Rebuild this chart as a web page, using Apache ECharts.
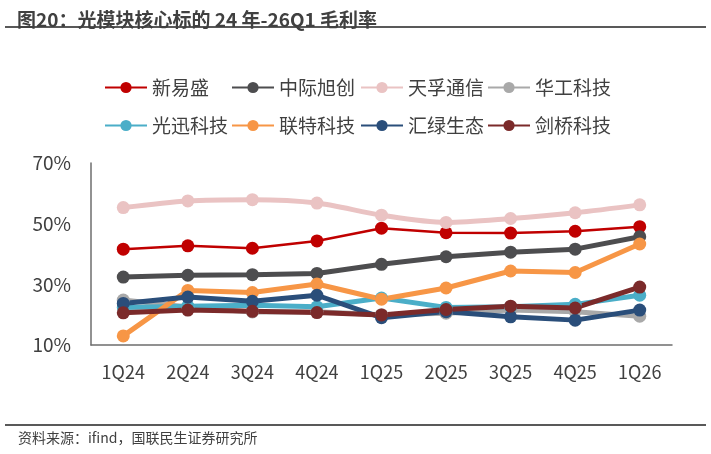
<!DOCTYPE html>
<html lang="zh">
<head>
    <meta charset="UTF-8"/>
    <title>光模块核心标的毛利率</title>
    <script src="https://cdn.jsdelivr.net/npm/echarts@6/dist/echarts.min.js"></script>
    <style>
        body { margin: 0; background: #fff; }
        #main { width: 711px; height: 454px; }
    </style>
</head>
<body>
<div id="main"></div>
<script type="text/javascript">
    // 数据
    var quarters = ['1Q24', '2Q24', '3Q24', '4Q24', '1Q25', '2Q25', '3Q25', '4Q25', '1Q26'];
    var names = ['新易盛', '中际旭创', '天孚通信', '华工科技', '光迅科技', '联特科技', '汇绿生态', '剑桥科技'];
    var xinyisheng = [41.6, 42.7, 41.9, 44.3, 48.5, 47.0, 46.9, 47.5, 49.0];
    var zhongjixuchuang = [32.4, 33.0, 33.2, 33.6, 36.6, 39.1, 40.6, 41.6, 45.7];
    var tianfu = [55.3, 57.5, 57.9, 56.8, 52.8, 50.4, 51.7, 53.6, 56.2];
    var huagong = [24.8, 22.5, 20.9, 21.0, 20.0, 20.5, 21.5, 21.0, 19.5];
    var guangxun = [22.4, 22.8, 23.1, 22.6, 25.5, 22.4, 22.6, 23.4, 26.4];
    var liante = [13.0, 28.0, 27.3, 30.1, 25.1, 28.8, 34.4, 33.9, 43.3];
    var huilv = [23.7, 25.8, 24.4, 26.4, 19.0, 21.0, 19.3, 18.2, 21.5];
    var jianqiao = [20.6, 21.5, 21.1, 20.7, 19.9, 21.7, 22.8, 22.2, 29.1];
    var yTicks = [10, 30, 50, 70];

    var seriesData = [xinyisheng, zhongjixuchuang, tianfu, huagong, guangxun, liante, huilv, jianqiao];
    var colors = ['#C00000', '#4D4D4F', '#EAC3C3', '#A9A9A9', '#4BAEC8', '#F79646', '#2A4E7A', '#7B2A2A'];

    var myChart = echarts.init(document.getElementById('main'));

    var series = [];
    for (var i = 0; i < names.length; i++) {
        series.push({
            name: names[i],
            type: 'line',
            data: seriesData[i],
            symbol: 'circle',
            symbolSize: 13,
            smooth: i === 2 ? 0.3 : false,
            lineStyle: {width: i === 0 ? 2.5 : 5, color: colors[i]},
            itemStyle: {color: colors[i]}
        });
    }

    // 图例：两行四列
    var legendCols = [104, 231, 360, 487];
    var legendRows = [78, 116];
    var legends = [];
    for (var j = 0; j < names.length; j++) {
        legends.push({
            left: legendCols[j % 4],
            top: legendRows[Math.floor(j / 4)],
            padding: 0,
            itemWidth: 42,
            itemHeight: 14,
            data: [names[j]],
            textStyle: {fontSize: 19, color: '#404040', fontFamily: 'Noto Sans CJK SC'}
        });
    }

    var option = {
        color: colors,
        animation: false,
        title: {
            text: '图20：光模块核心标的 24 年-26Q1 毛利率',
            left: 12,
            top: 5,
            textStyle: {fontSize: 19, fontWeight: 'bold', color: '#404040', fontFamily: 'Noto Sans CJK SC'}
        },
        legend: legends,
        grid: {left: 91, right: 39, top: 163, bottom: 109},
        xAxis: {
            type: 'category',
            data: quarters,
            axisLine: {lineStyle: {color: '#6E6E6E', width: 1.5}},
            axisTick: {show: false},
            axisLabel: {fontSize: 18, color: '#404040', margin: 18, fontFamily: 'Noto Sans CJK SC'}
        },
        yAxis: {
            type: 'value',
            min: 10,
            max: 70,
            interval: 10,
            axisLine: {show: true, lineStyle: {color: '#6E6E6E', width: 1.5}},
            axisTick: {show: false},
            splitLine: {show: false},
            axisLabel: {
                fontSize: 19,
                color: '#404040',
                margin: 20,
                fontFamily: 'Noto Sans CJK SC',
                formatter: function (v) {
                    return yTicks.indexOf(v) >= 0 ? v + '%' : '';
                }
            }
        },
        graphic: [
            {type: 'line', shape: {x1: 5, y1: 27, x2: 706, y2: 27}, style: {stroke: '#595959', lineWidth: 2}},
            {type: 'line', shape: {x1: 5, y1: 425, x2: 706, y2: 425}, style: {stroke: '#595959', lineWidth: 2}},
            {
                type: 'text', left: 18, top: 431,
                style: {text: '资料来源：ifind，国联民生证券研究所', fontSize: 14, fill: '#404040', fontFamily: 'Noto Sans CJK SC'}
            }
        ],
        series: series
    };

    myChart.setOption(option);
</script>
</body>
</html>
